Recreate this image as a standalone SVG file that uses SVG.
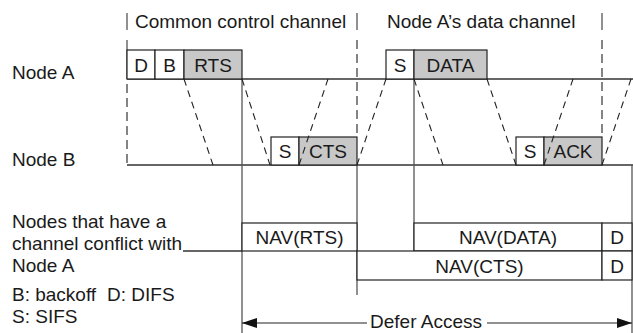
<svg xmlns="http://www.w3.org/2000/svg" width="633" height="333" viewBox="0 0 633 333">
<defs>
<style>
text{font-family:"Liberation Sans",Arial,sans-serif;font-size:19px;fill:#1a1a1a}
.c{text-anchor:middle}
.box{fill:#fff;stroke:#222;stroke-width:1.2}
.g{fill:#c8c8c8;stroke:#222;stroke-width:1.2}
.base{stroke:#333;stroke-width:1.3;fill:none}
.v{stroke:#555;stroke-width:1.3;fill:none}
.vd{stroke:#666;stroke-width:1.6;fill:none;stroke-dasharray:9 5}
.d{stroke:#222;stroke-width:1.1;fill:none;stroke-dasharray:7 5}
.arr{stroke:#222;stroke-width:1.2;fill:none}
</style>
<marker id="ah" viewBox="0 0 15 10" refX="15" refY="5" markerWidth="15" markerHeight="10" markerUnits="userSpaceOnUse" orient="auto-start-reverse">
<path d="M0,0 L15,5 L0,10 Z" fill="#111"/>
</marker>
</defs>

<g id="labels">
<text x="12" y="79">Node A</text>
<text x="12" y="166">Node B</text>
<text x="135" y="28">Common control channel</text>
<text x="387" y="28">Node A’s data channel</text>
<text x="12" y="228">Nodes that have a</text>
<text x="12" y="250">channel conflict with</text>
<text x="12" y="271.5">Node A</text>
<text x="12" y="300.5">B: backoff</text>
<text x="107" y="300.5">D: DIFS</text>
<text x="12" y="323">S: SIFS</text>
</g>

<g id="timelines">
<line class="base" x1="127" y1="79" x2="633" y2="79"/>
<line class="base" x1="127" y1="165" x2="633" y2="165"/>
<line class="v" x1="127" y1="13" x2="127" y2="30"/>
<line class="v" x1="357" y1="13" x2="357" y2="30"/>
<line class="v" x1="602" y1="13" x2="602" y2="30"/>
<line class="v" x1="127" y1="40" x2="127" y2="79"/>
<line class="vd" x1="127" y1="84" x2="127" y2="165"/>
<line class="vd" x1="357" y1="40" x2="357" y2="137"/>
<line class="vd" x1="602" y1="40" x2="602" y2="137"/>
<line class="v" x1="242" y1="79" x2="242" y2="333"/>
<line class="v" x1="357" y1="165" x2="357" y2="295"/>
<line class="v" x1="414" y1="79" x2="414" y2="251"/>
<line class="v" x1="632" y1="165" x2="632" y2="333"/>
<line class="base" x1="183" y1="251" x2="242" y2="251"/>
</g>

<g id="nodeA-frames">
<rect class="box" x="127" y="50" width="28" height="29"/>
<text class="c" x="141" y="71.5">D</text>
<rect class="box" x="155" y="50" width="29" height="29"/>
<text class="c" x="169.5" y="71.5">B</text>
<rect class="g" x="184" y="50" width="58" height="29"/>
<text class="c" x="213" y="71.5">RTS</text>
<rect class="box" x="386" y="50" width="28" height="29"/>
<text class="c" x="400" y="71.5">S</text>
<rect class="g" x="414" y="50" width="73" height="29"/>
<text class="c" x="450.5" y="71.5">DATA</text>
</g>

<g id="nodeB-frames">
<rect class="box" x="271" y="137" width="28" height="28"/>
<text class="c" x="285" y="158">S</text>
<rect class="g" x="299" y="137" width="58" height="28"/>
<text class="c" x="328" y="158">CTS</text>
<rect class="box" x="516" y="137" width="28" height="28"/>
<text class="c" x="530" y="158">S</text>
<rect class="g" x="544" y="137" width="58" height="28"/>
<text class="c" x="573" y="158">ACK</text>
</g>

<g id="nav">
<rect class="box" x="242" y="223" width="115" height="28"/>
<text class="c" x="299.5" y="244">NAV(RTS)</text>
<rect class="box" x="414" y="223" width="188" height="28"/>
<text class="c" x="508" y="244">NAV(DATA)</text>
<rect class="box" x="602" y="223" width="30" height="28"/>
<text class="c" x="617" y="244">D</text>
<rect class="box" x="357" y="251" width="245" height="29"/>
<text class="c" x="479.5" y="272.5">NAV(CTS)</text>
<rect class="box" x="602" y="251" width="30" height="29"/>
<text class="c" x="617" y="272.5">D</text>
</g>

<g id="connectors">
<line class="d" x1="184" y1="79" x2="213" y2="165"/>
<line class="d" x1="242" y1="79" x2="270" y2="165"/>
<line class="d" x1="299" y1="165" x2="328" y2="79"/>
<line class="d" x1="357" y1="165" x2="386" y2="79"/>
<line class="d" x1="414" y1="79" x2="443" y2="165"/>
<line class="d" x1="487" y1="79" x2="516" y2="165"/>
<line class="d" x1="544" y1="165" x2="573" y2="79"/>
<line class="d" x1="602" y1="165" x2="631" y2="79"/>
<line class="arr" x1="367" y1="323" x2="242" y2="323" marker-end="url(#ah)"/>
<line class="arr" x1="487" y1="323" x2="632" y2="323" marker-end="url(#ah)"/>
<text class="c" x="426" y="328">Defer Access</text>
</g>
</svg>
